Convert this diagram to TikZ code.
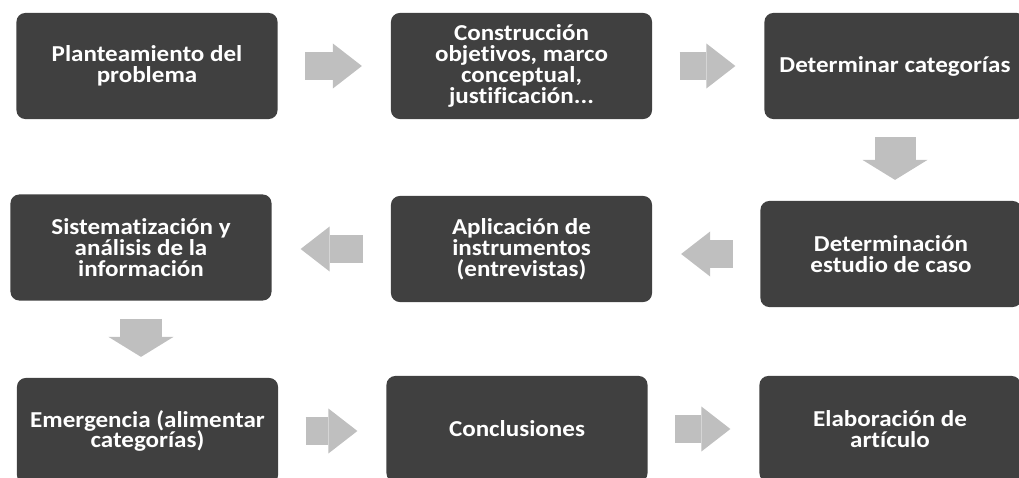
\documentclass[tikz,border=0pt]{standalone}
\usepackage{fontspec}
\setmainfont{Carlito}[Ligatures=NoCommon, FakeStretch=1.1]
\usepackage{xcolor}
\definecolor{boxgray}{RGB}{64,64,64}
\definecolor{arrgray}{RGB}{191,191,191}
\usetikzlibrary{arrows.meta,positioning,calc}
\newcommand{\stepfont}{\fontsize{16.2}{14.8}\selectfont\bfseries\lineskiplimit=-100pt}

\begin{document}
\begin{tikzpicture}[x=0.025cm, y=-0.025cm,
  sbox/.style={rectangle, rounded corners=0.22cm, fill=boxgray, draw=none,
               minimum width=6.525cm, minimum height=2.65cm, inner sep=0pt,
               font=\stepfont, align=center, text=white},
  harr/.style={draw=arrgray, line width=0.7cm,
               -{Triangle[length=0.725cm, width=1.125cm, line width=0pt]},
               shorten <=0.68cm, shorten >=0.72cm},
  varr/.style={draw=arrgray, line width=1.025cm,
               -{Triangle[length=0.5cm, width=1.625cm, line width=0pt]},
               shorten <=0.45cm, shorten >=0.52cm}
]
\useasboundingbox (0,0) rectangle (1019,478);

% Row 1
\node[sbox] (plant) at (147,66)   {Planteamiento del\\problema};
\node[sbox] (constr) at (521.5,66) {Construcción\\objetivos, marco\\conceptual,\\justificación...};
\node[sbox] (categ) at (895,66)   {Determinar categorías};

% Row 2
\node[sbox] (caso)  at (891,254)   {Determinación\\estudio de caso};
\node[sbox] (instr) at (521.5,249) {Aplicación de\\instrumentos\\(entrevistas)};
\node[sbox] (sist)  at (141,247.5) {Sistematización y\\análisis de la\\información};

% Row 3
\node[sbox] (emerg) at (147.5,431) {Emergencia (alimentar\\categorías)};
\node[sbox] (concl) at (517,429)   {Conclusiones};
\node[sbox] (artic) at (890,429)   {Elaboración de\\artículo};

% Arrows
\draw[harr] (plant.east)  -- (constr.west);
\draw[harr] (constr.east) -- (categ.west);
\draw[varr] (categ.south) -- (categ.south |- caso.north);
\draw[harr] (caso.west)   -- (caso.west -| instr.east);
\draw[harr] (instr.west)  -- (instr.west -| sist.east);
\draw[varr] (sist.south)  -- (sist.south |- emerg.north);
\draw[harr] (emerg.east)  -- (emerg.east -| concl.west);
\draw[harr] (concl.east)  -- (artic.west);
\end{tikzpicture}
\end{document}
